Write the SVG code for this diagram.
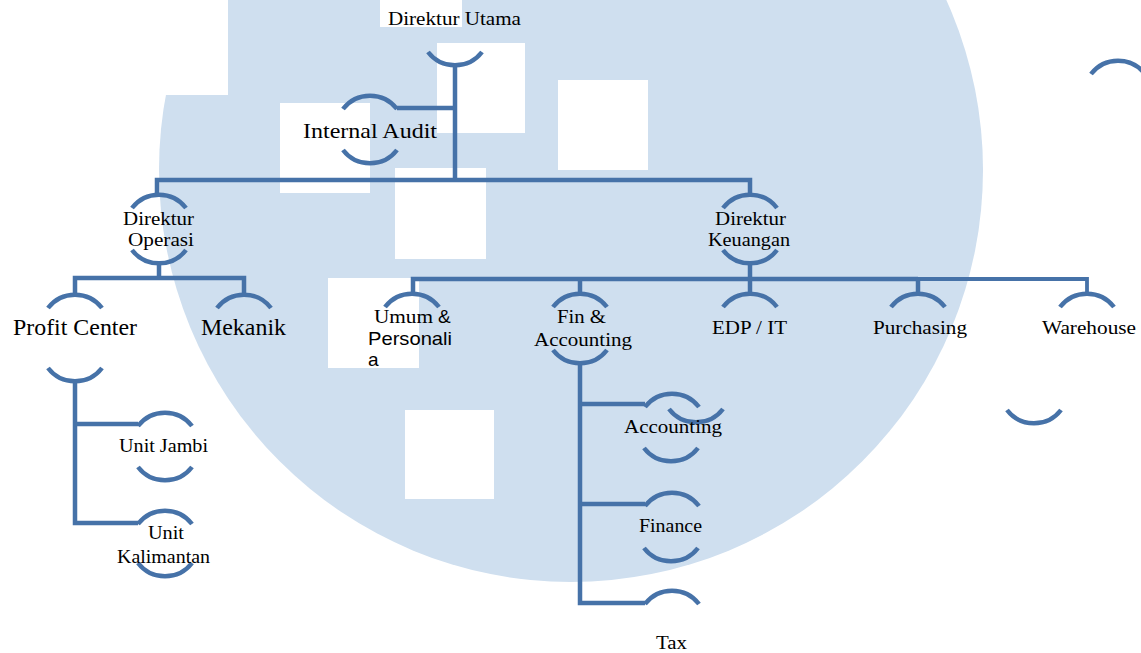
<svg xmlns="http://www.w3.org/2000/svg" xmlns:xlink="http://www.w3.org/1999/xlink" width="1141" height="653" viewBox="0 0 1141 653">
<style>
.ln{fill:none;stroke:#4672a8;stroke-width:4.5;stroke-linejoin:miter}
.arc{fill:none;stroke:#4672a8;stroke-width:4.5}
.t{font-family:"Liberation Serif","Times New Roman","DejaVu Serif",serif;fill:#000}
.s{font-family:"Liberation Sans",Arial,"DejaVu Sans",sans-serif;fill:#000}
.wm{fill:#ffffff}
</style>
<defs>
<path id="at" d="M-27,13 A34,34 0 0 1 27,13"/>
<path id="ab" d="M-27,-13 A34,34 0 0 0 27,-13"/>
</defs>
<rect width="1141" height="653" fill="#ffffff"/>
<g id="background">
<circle cx="571" cy="170" r="412" fill="#cfdfef"/>
<rect class="wm" x="150" y="0" width="78" height="95"/>
<rect class="wm" x="380" y="0" width="82" height="27"/>
<rect class="wm" x="437" y="43" width="88" height="90"/>
<rect class="wm" x="558" y="80" width="90" height="90"/>
<rect class="wm" x="280" y="103" width="90" height="90"/>
<rect class="wm" x="395" y="168" width="91" height="91"/>
<rect class="wm" x="328" y="278" width="91" height="90"/>
<rect class="wm" x="405" y="410" width="89" height="89"/>
</g>
<g id="connectors">
<path class="ln" d="M455,65 V180"/>
<path class="ln" d="M397,108 H455"/>
<path class="ln" d="M157,195 V180 H750 V195"/>
<path class="ln" d="M159,263 V278"/>
<path class="ln" d="M75,295 V278 H244 V295"/>
<path class="ln" d="M750,263 V279"/>
<path class="ln" d="M413,294 V279 H918"/>
<path class="ln" d="M918,279 H1087 V294" style="stroke-width:3.8"/>
<path class="ln" d="M580,279 V294"/>
<path class="ln" d="M750,279 V294"/>
<path class="ln" d="M918,279 V294"/>
<path class="ln" d="M580,363 V603 H645"/>
<path class="ln" d="M580,404 H645"/>
<path class="ln" d="M580,504 H645"/>
<path class="ln" d="M75,381 V523 H138"/>
<path class="ln" d="M75,424 H138"/>
</g>
<g id="direktur-utama">
<use href="#ab" class="arc" x="455" y="65"/>
<text class="t" font-family="Liberation Serif" style="font-size:18px" x="388" y="25" textLength="133" lengthAdjust="spacingAndGlyphs">Direktur Utama</text>
</g>
<g id="internal-audit">
<use href="#at" class="arc" x="370" y="96"/>
<use href="#ab" class="arc" x="370" y="163"/>
<text class="t" font-family="Liberation Serif" style="font-size:22px" x="303" y="138" textLength="134" lengthAdjust="spacingAndGlyphs">Internal Audit</text>
</g>
<g id="direktur-operasi">
<use href="#at" class="arc" x="159" y="195"/>
<use href="#ab" class="arc" x="159" y="263"/>
<text class="t" font-family="Liberation Serif" style="font-size:19px" x="123" y="225" textLength="71" lengthAdjust="spacingAndGlyphs">Direktur</text>
<text class="t" font-family="Liberation Serif" style="font-size:19px" x="128" y="246" textLength="66" lengthAdjust="spacingAndGlyphs">Operasi</text>
</g>
<g id="direktur-keuangan">
<use href="#at" class="arc" x="750" y="195"/>
<use href="#ab" class="arc" x="750" y="263"/>
<text class="t" font-family="Liberation Serif" style="font-size:19px" x="715" y="225" textLength="71" lengthAdjust="spacingAndGlyphs">Direktur</text>
<text class="t" font-family="Liberation Serif" style="font-size:19px" x="708" y="246" textLength="82" lengthAdjust="spacingAndGlyphs">Keuangan</text>
</g>
<g id="profit-center">
<use href="#at" class="arc" x="75" y="295"/>
<use href="#ab" class="arc" x="75" y="381"/>
<text class="t" font-family="Liberation Serif" style="font-size:23px" x="13" y="335" textLength="124" lengthAdjust="spacingAndGlyphs">Profit Center</text>
</g>
<g id="mekanik">
<use href="#at" class="arc" x="244" y="295"/>
<text class="t" font-family="Liberation Serif" style="font-size:23px" x="201" y="335" textLength="85" lengthAdjust="spacingAndGlyphs">Mekanik</text>
</g>
<g id="unit-jambi">
<use href="#at" class="arc" x="165" y="413"/>
<use href="#ab" class="arc" x="165" y="480"/>
<text class="t" font-family="Liberation Serif" style="font-size:19px" x="119" y="452" textLength="89" lengthAdjust="spacingAndGlyphs">Unit Jambi</text>
</g>
<g id="unit-kalimantan">
<use href="#at" class="arc" x="165" y="511"/>
<use href="#ab" class="arc" x="165" y="576"/>
<text class="t" font-family="Liberation Serif" style="font-size:19px" x="148" y="539" textLength="36" lengthAdjust="spacingAndGlyphs">Unit</text>
<text class="t" font-family="Liberation Serif" style="font-size:19px" x="117" y="563" textLength="93" lengthAdjust="spacingAndGlyphs">Kalimantan</text>
</g>
<g id="umum-personalia">
<use href="#at" class="arc" x="412" y="294"/>
<text class="t" font-family="Liberation Serif" style="font-size:19px" x="374" y="323" textLength="59" lengthAdjust="spacingAndGlyphs">Umum</text>
<text class="s" font-family="Liberation Sans" style="font-size:19px" x="438" y="323">&amp;</text>
<text class="s" font-family="Liberation Sans" style="font-size:19px" x="368" y="345" textLength="84" lengthAdjust="spacingAndGlyphs">Personali</text>
<text class="s" font-family="Liberation Sans" style="font-size:19px" x="368" y="366">a</text>
</g>
<g id="fin-accounting">
<use href="#at" class="arc" x="580" y="294"/>
<use href="#ab" class="arc" x="580" y="363"/>
<text class="t" font-family="Liberation Serif" style="font-size:19px" x="557" y="323" textLength="49" lengthAdjust="spacingAndGlyphs">Fin &amp;</text>
<text class="t" font-family="Liberation Serif" style="font-size:19px" x="534" y="346" textLength="98" lengthAdjust="spacingAndGlyphs">Accounting</text>
</g>
<g id="edp-it">
<use href="#at" class="arc" x="750" y="294"/>
<text class="t" font-family="Liberation Serif" style="font-size:19px" x="712" y="334" textLength="75" lengthAdjust="spacingAndGlyphs">EDP / IT</text>
</g>
<g id="purchasing">
<use href="#at" class="arc" x="918" y="294"/>
<text class="t" font-family="Liberation Serif" style="font-size:19px" x="873" y="334" textLength="94" lengthAdjust="spacingAndGlyphs">Purchasing</text>
</g>
<g id="warehouse">
<use href="#at" class="arc" x="1087" y="294"/>
<use href="#ab" class="arc" x="1034" y="423"/>
<text class="t" font-family="Liberation Serif" style="font-size:19px" x="1042" y="334" textLength="94" lengthAdjust="spacingAndGlyphs">Warehouse</text>
</g>
<g id="accounting">
<use href="#at" class="arc" x="672" y="394"/>
<use href="#ab" class="arc" x="696" y="422"/>
<use href="#ab" class="arc" x="671" y="461"/>
<text class="t" font-family="Liberation Serif" style="font-size:19px" x="624" y="433" textLength="98" lengthAdjust="spacingAndGlyphs">Accounting</text>
</g>
<g id="finance">
<use href="#at" class="arc" x="672" y="493"/>
<use href="#ab" class="arc" x="671" y="561"/>
<text class="t" font-family="Liberation Serif" style="font-size:19px" x="639" y="532" textLength="63" lengthAdjust="spacingAndGlyphs">Finance</text>
</g>
<g id="tax">
<use href="#at" class="arc" x="672" y="591"/>
<text class="t" font-family="Liberation Serif" style="font-size:19px" x="656" y="649" textLength="31" lengthAdjust="spacingAndGlyphs">Tax</text>
</g>
<g id="offscreen-node">
<use href="#at" class="arc" x="1118" y="61"/>
</g>
</svg>
